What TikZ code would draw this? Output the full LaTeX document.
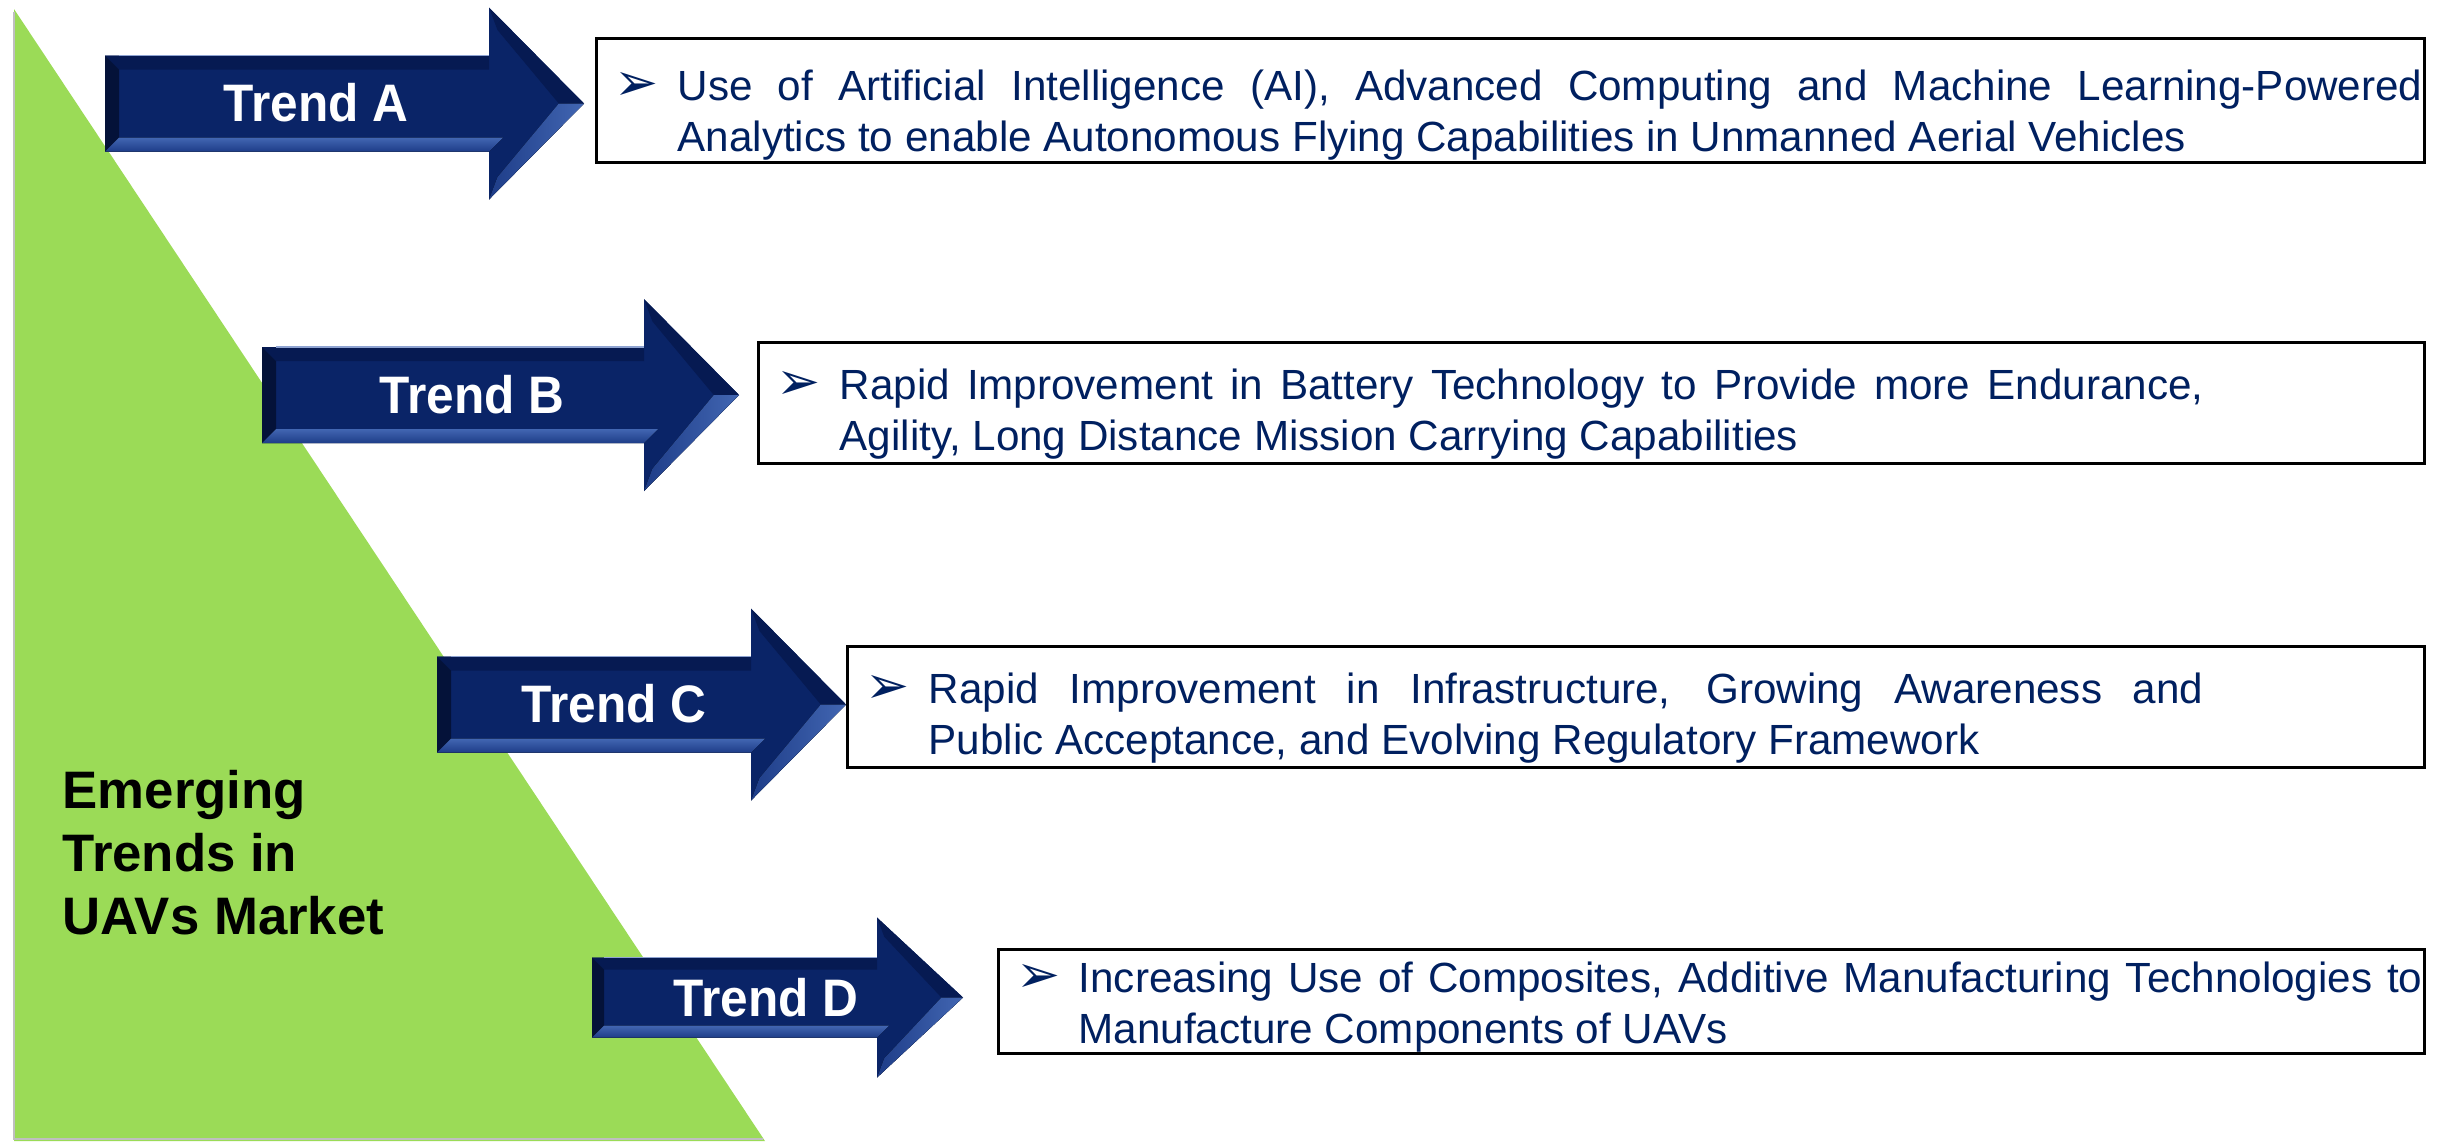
\documentclass[tikz,border=0pt]{standalone}
\usepackage{fontspec}
\setmainfont{Liberation Sans}
\newfontfamily\trendfont{Liberation Sans}[FakeStretch=0.94]
\newfontfamily\symfont{DejaVu Sans}
\usepackage{tikz}
\definecolor{trendnavy}{HTML}{0A2467}
\definecolor{trenddark}{HTML}{061A52}
\definecolor{trendlight}{HTML}{4266B2}
\definecolor{trendmid}{HTML}{1E3D88}
\definecolor{trendtext}{HTML}{002060}
\definecolor{trendgreen}{HTML}{9BDB57}
\newcommand{\fillline}[1]{\makebox[\linewidth][s]{#1}}
\tikzset{
    pics/trendarrow/.style={
            code={
                    \def\arrL{\pgfkeysvalueof{/tikz/trendarrow/length}}
                    \def\arrh{\pgfkeysvalueof{/tikz/trendarrow/half}}
                    \def\arrH{\pgfkeysvalueof{/tikz/trendarrow/head}}
                    \def\arrT{\pgfkeysvalueof{/tikz/trendarrow/tip}}
                    \def\arrb{\pgfkeysvalueof{/tikz/trendarrow/bevel}}
                    \coordinate (-tail) at (0,0);
                    \coordinate (-tip) at ({\arrL+\arrT},0);
                    \fill[trendnavy]
                    (0,-\arrh) -- (\arrL,-\arrh) -- (\arrL,-\arrH)
                    -- (-tip) -- (\arrL,\arrH) -- (\arrL,\arrh)
                    -- (0,\arrh) -- cycle;
                    \fill[trenddark]
                    (0,-\arrh) -- (\arrL,-\arrh) -- (\arrL,{-\arrh+\arrb})
                    -- (\arrb,{-\arrh+\arrb}) -- cycle;
                    \fill[trenddark!70!black]
                    (0,-\arrh) -- (\arrb,{-\arrh+\arrb}) -- (\arrb,{\arrh-\arrb})
                    -- (0,\arrh) -- cycle;
                    \fill[top color=trendlight, bottom color=trendmid]
                    (0,\arrh) -- (\arrb,{\arrh-\arrb}) -- ({\arrL+\arrb},{\arrh-\arrb})
                    -- (\arrL,\arrh) -- cycle;
                    \fill[trenddark]
                    (-tip) -- (\arrL,-\arrH) -- ({\arrL+0.6*\arrb},{-\arrH+1.6*\arrb})
                    -- ({\arrL+\arrT-1.8*\arrb},0) -- cycle;
                    \fill[left color=trendmid, right color=trendlight]
                    (-tip) -- (\arrL,\arrH) -- ({\arrL+0.6*\arrb},{\arrH-1.6*\arrb})
                    -- ({\arrL+\arrT-1.8*\arrb},0) -- cycle;
                    \draw[trendlight!60, line width=0.4pt]
                    (\arrb,-\arrh) -- (\arrL,-\arrh);
                }
        },
    trendarrow/length/.initial={384},
    trendarrow/half/.initial={48},
    trendarrow/head/.initial={96},
    trendarrow/tip/.initial={95},
    trendarrow/bevel/.initial={14},
    trendlabel/.style={
            text=white,
            font=\trendfont\bfseries\fontsize{15}{18}\selectfont
        },
    trendbox/.style={
            draw=black, line width=0.8pt, fill=white,
            inner sep=0pt, anchor=north west
        },
    boxtext/.style={
            text=trendtext, inner sep=0pt, anchor=base west,
            font=\fontsize{12}{14.5}\selectfont
        },
    bulletmark/.style={
            text=trendtext, inner sep=0pt, anchor=base west,
            font=\symfont\fontsize{15}{18}\selectfont
        }
}

\begin{document}
\begin{tikzpicture}[x=0.01cm, y=-0.01cm]
    \useasboundingbox (0,0) rectangle (2449,1141);

    \fill[trendgreen] (14,9) -- (14,1141) -- (765,1141) -- cycle;
    \draw[black!25, line width=0.6pt] (14,12) -- (14,1139) -- (763,1139);
    \node[anchor=base west, inner sep=0pt, font=\bfseries\fontsize{15}{18}\selectfont] (title)
    at (62,808) {\parbox[t]{60mm}{Emerging\\Trends in\\UAVs Market}};

    \pic (arrowA) at (105,103.5) {trendarrow};
    \pic[trendarrow/length=382] (arrowB) at (262,395) {trendarrow};
    \pic[trendarrow/length=314] (arrowC) at (437,704.5) {trendarrow};
    \pic[trendarrow/length=285, trendarrow/half=40, trendarrow/head=80,
        trendarrow/tip=86, trendarrow/bevel=12] (arrowD) at (592,997.5) {trendarrow};

    \node[trendlabel] (labelA) at (316,103) {Trend A};
    \node[trendlabel] (labelB) at (472,395) {Trend B};
    \node[trendlabel] (labelC) at (614,704) {Trend C};
    \node[trendlabel] (labelD) at (766,998) {Trend D};

    \node[trendbox, minimum width=182.7mm, minimum height=12.4mm] (boxA) at (595,37) {};
    \node[trendbox, minimum width=166.5mm, minimum height=12.1mm] (boxB) at (757,341) {};
    \node[trendbox, minimum width=157.6mm, minimum height=12.1mm] (boxC) at (846,645) {};
    \node[trendbox, minimum width=142.5mm, minimum height=10.4mm] (boxD) at (997,948) {};

    \node[bulletmark] (bulletA) at (614,100) {➢};
    \node[bulletmark] (bulletB) at (776,399) {➢};
    \node[bulletmark] (bulletC) at (865,703) {➢};
    \node[bulletmark] (bulletD) at (1016,992) {➢};

    \node[boxtext] (textA) at (677,100) {\parbox[t]{174.4mm}{%
            \fillline{Use of Artificial Intelligence (AI), Advanced Computing and Machine Learning-Powered}\\
            Analytics to enable Autonomous Flying Capabilities in Unmanned Aerial Vehicles}};
    \node[boxtext] (textB) at (839,399) {\parbox[t]{136.3mm}{%
            \fillline{Rapid Improvement in Battery Technology to Provide more Endurance,}\\
            Agility, Long Distance Mission Carrying Capabilities}};
    \node[boxtext] (textC) at (928,703) {\parbox[t]{127.4mm}{%
            \fillline{Rapid Improvement in Infrastructure, Growing Awareness and}\\
            Public Acceptance, and Evolving Regulatory Framework}};
    \node[boxtext] (textD) at (1078,992) {\parbox[t]{134.3mm}{%
            \fillline{Increasing Use of Composites, Additive Manufacturing Technologies to}\\
            Manufacture Components of UAVs}};

\end{tikzpicture}
\end{document}
